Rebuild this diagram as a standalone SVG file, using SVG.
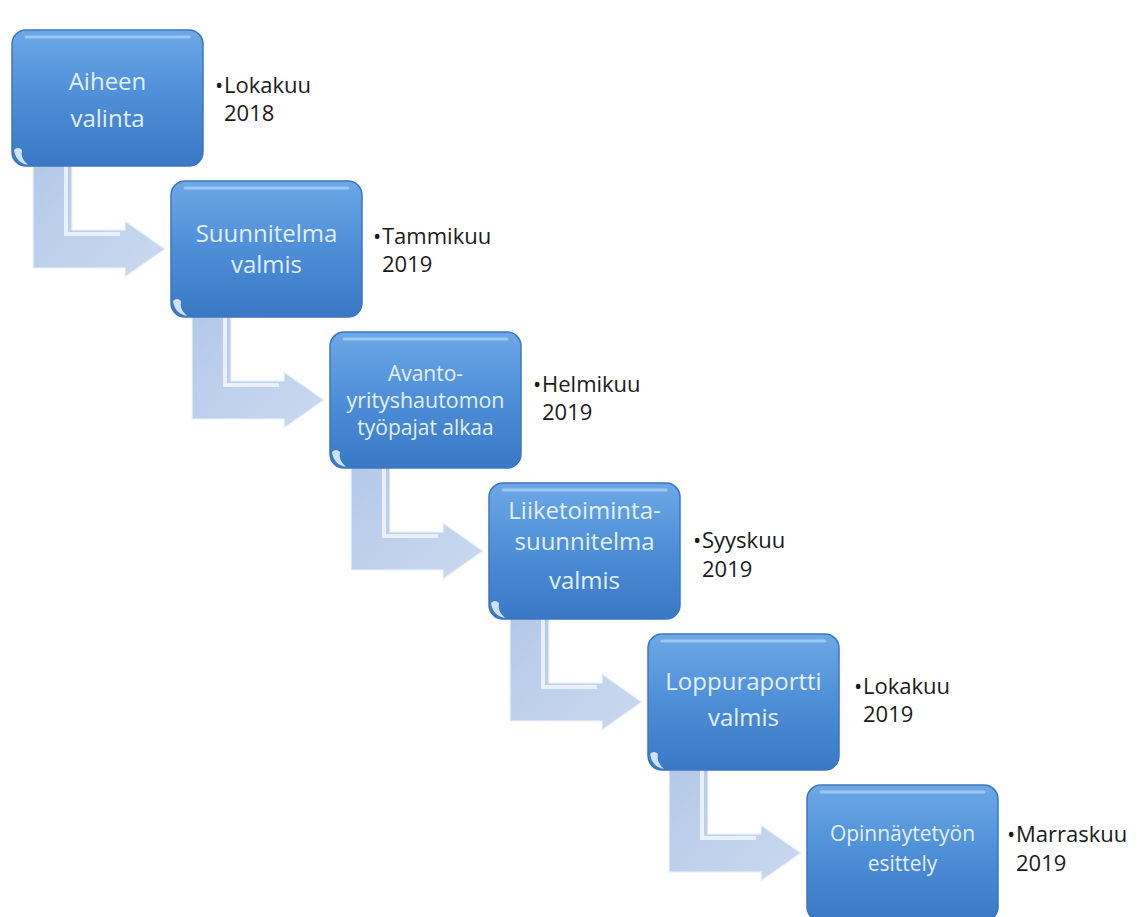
<svg xmlns="http://www.w3.org/2000/svg" width="1138" height="917" viewBox="0 0 1138 917">
<style>
.box{fill:url(#boxg);stroke:#3b77bf;stroke-width:1.5}
.hl{fill:none;stroke:#a9d0f5;stroke-width:3;stroke-linecap:round;opacity:0.8}
.glint{fill:#e9f4ff;opacity:0.85}
.arr{fill:url(#arrg);stroke:#eef3fa;stroke-width:1.2}
.arrhl{fill:none;stroke:#f4f8fd;stroke-width:4;opacity:0.8}
.bt{font-family:"Open Sans","Liberation Sans",sans-serif;font-size:24px;fill:#e2effb;text-anchor:middle}
.bts{font-size:21px}
.st{font-family:"Open Sans","Liberation Sans",sans-serif;font-size:22px;fill:#1a1a1a}
</style>
<defs>
<linearGradient id="boxg" x1="0" y1="0" x2="0" y2="1">
<stop offset="0" stop-color="#6da8e6"/>
<stop offset="0.5" stop-color="#4d8ed7"/>
<stop offset="1" stop-color="#3a78c5"/>
</linearGradient>
<linearGradient id="arrg" x1="0" y1="0" x2="1" y2="1">
<stop offset="0" stop-color="#b3c8e8"/>
<stop offset="1" stop-color="#cbd9ef"/>
</linearGradient>
</defs>
<rect width="1138" height="917" fill="#ffffff"/>
<g id="connectors">
<path class="arr" d="M33,160 L72,160 L72,230 L125,230 L125,221 L165,249 L125,277 L125,268 L33,268 Z"/>
<path class="arrhl" d="M66,166 L66,234 L120,234"/>
<path class="arr" d="M192,311 L231,311 L231,381 L284,381 L284,372 L324,400 L284,428 L284,419 L192,419 Z"/>
<path class="arrhl" d="M225,317 L225,385 L279,385"/>
<path class="arr" d="M351,462 L390,462 L390,532 L443,532 L443,523 L483,551 L443,579 L443,570 L351,570 Z"/>
<path class="arrhl" d="M384,468 L384,536 L438,536"/>
<path class="arr" d="M510,613 L549,613 L549,683 L602,683 L602,674 L642,702 L602,730 L602,721 L510,721 Z"/>
<path class="arrhl" d="M543,619 L543,687 L597,687"/>
<path class="arr" d="M669,764 L708,764 L708,834 L761,834 L761,825 L801,853 L761,881 L761,872 L669,872 Z"/>
<path class="arrhl" d="M702,770 L702,838 L756,838"/>
</g>
<g id="n1">
<rect class="box" x="12" y="30" width="191" height="136" rx="14"/>
<path class="hl" d="M26,37 L189,37"/>
<path class="glint" d="M14,150 Q16,163 28,165 Q20,158 22,150 Q18,146 14,150 Z"/>
<text class="bt" x="107.5" y="90">Aiheen</text>
<text class="bt" x="107.5" y="127">valinta</text>
<text class="st"><tspan x="215" y="93">•</tspan><tspan x="224" y="93">Lokakuu</tspan><tspan x="224" y="121">2018</tspan></text>
</g>
<g id="n2">
<rect class="box" x="171" y="181" width="191" height="136" rx="14"/>
<path class="hl" d="M185,188 L348,188"/>
<path class="glint" d="M173,301 Q175,314 187,316 Q179,309 181,301 Q177,297 173,301 Z"/>
<text class="bt" x="266.5" y="242">Suunnitelma</text>
<text class="bt" x="266.5" y="273">valmis</text>
<text class="st"><tspan x="373" y="244">•</tspan><tspan x="382" y="244">Tammikuu</tspan><tspan x="382" y="272">2019</tspan></text>
</g>
<g id="n3">
<rect class="box" x="330" y="332" width="191" height="136" rx="14"/>
<path class="hl" d="M344,339 L507,339"/>
<path class="glint" d="M332,452 Q334,465 346,467 Q338,460 340,452 Q336,448 332,452 Z"/>
<text class="bt bts" x="425.5" y="381">Avanto-</text>
<text class="bt bts" x="425.5" y="408" textLength="158" lengthAdjust="spacingAndGlyphs">yrityshautomon</text>
<text class="bt bts" x="425.5" y="435">työpajat alkaa</text>
<text class="st"><tspan x="533" y="392">•</tspan><tspan x="542" y="392">Helmikuu</tspan><tspan x="542" y="420">2019</tspan></text>
</g>
<g id="n4">
<rect class="box" x="489" y="483" width="191" height="136" rx="14"/>
<path class="hl" d="M503,490 L666,490"/>
<path class="glint" d="M491,603 Q493,616 505,618 Q497,611 499,603 Q495,599 491,603 Z"/>
<text class="bt" x="584.5" y="519">Liiketoiminta-</text>
<text class="bt" x="584.5" y="550">suunnitelma</text>
<text class="bt" x="584.5" y="589">valmis</text>
<text class="st"><tspan x="693" y="548">•</tspan><tspan x="702" y="548">Syyskuu</tspan><tspan x="702" y="577">2019</tspan></text>
</g>
<g id="n5">
<rect class="box" x="648" y="634" width="191" height="136" rx="14"/>
<path class="hl" d="M662,641 L825,641"/>
<path class="glint" d="M650,754 Q652,767 664,769 Q656,762 658,754 Q654,750 650,754 Z"/>
<text class="bt" x="743.5" y="690">Loppuraportti</text>
<text class="bt" x="743.5" y="726">valmis</text>
<text class="st"><tspan x="854" y="694">•</tspan><tspan x="863" y="694">Lokakuu</tspan><tspan x="863" y="722">2019</tspan></text>
</g>
<g id="n6">
<rect class="box" x="807" y="785" width="191" height="136" rx="14"/>
<path class="hl" d="M821,792 L984,792"/>
<text class="bt bts" x="902.5" y="841">Opinnäytetyön</text>
<text class="bt bts" x="902.5" y="871">esittely</text>
<text class="st"><tspan x="1007" y="842">•</tspan><tspan x="1016" y="842">Marraskuu</tspan><tspan x="1016" y="871">2019</tspan></text>
</g>
</svg>
